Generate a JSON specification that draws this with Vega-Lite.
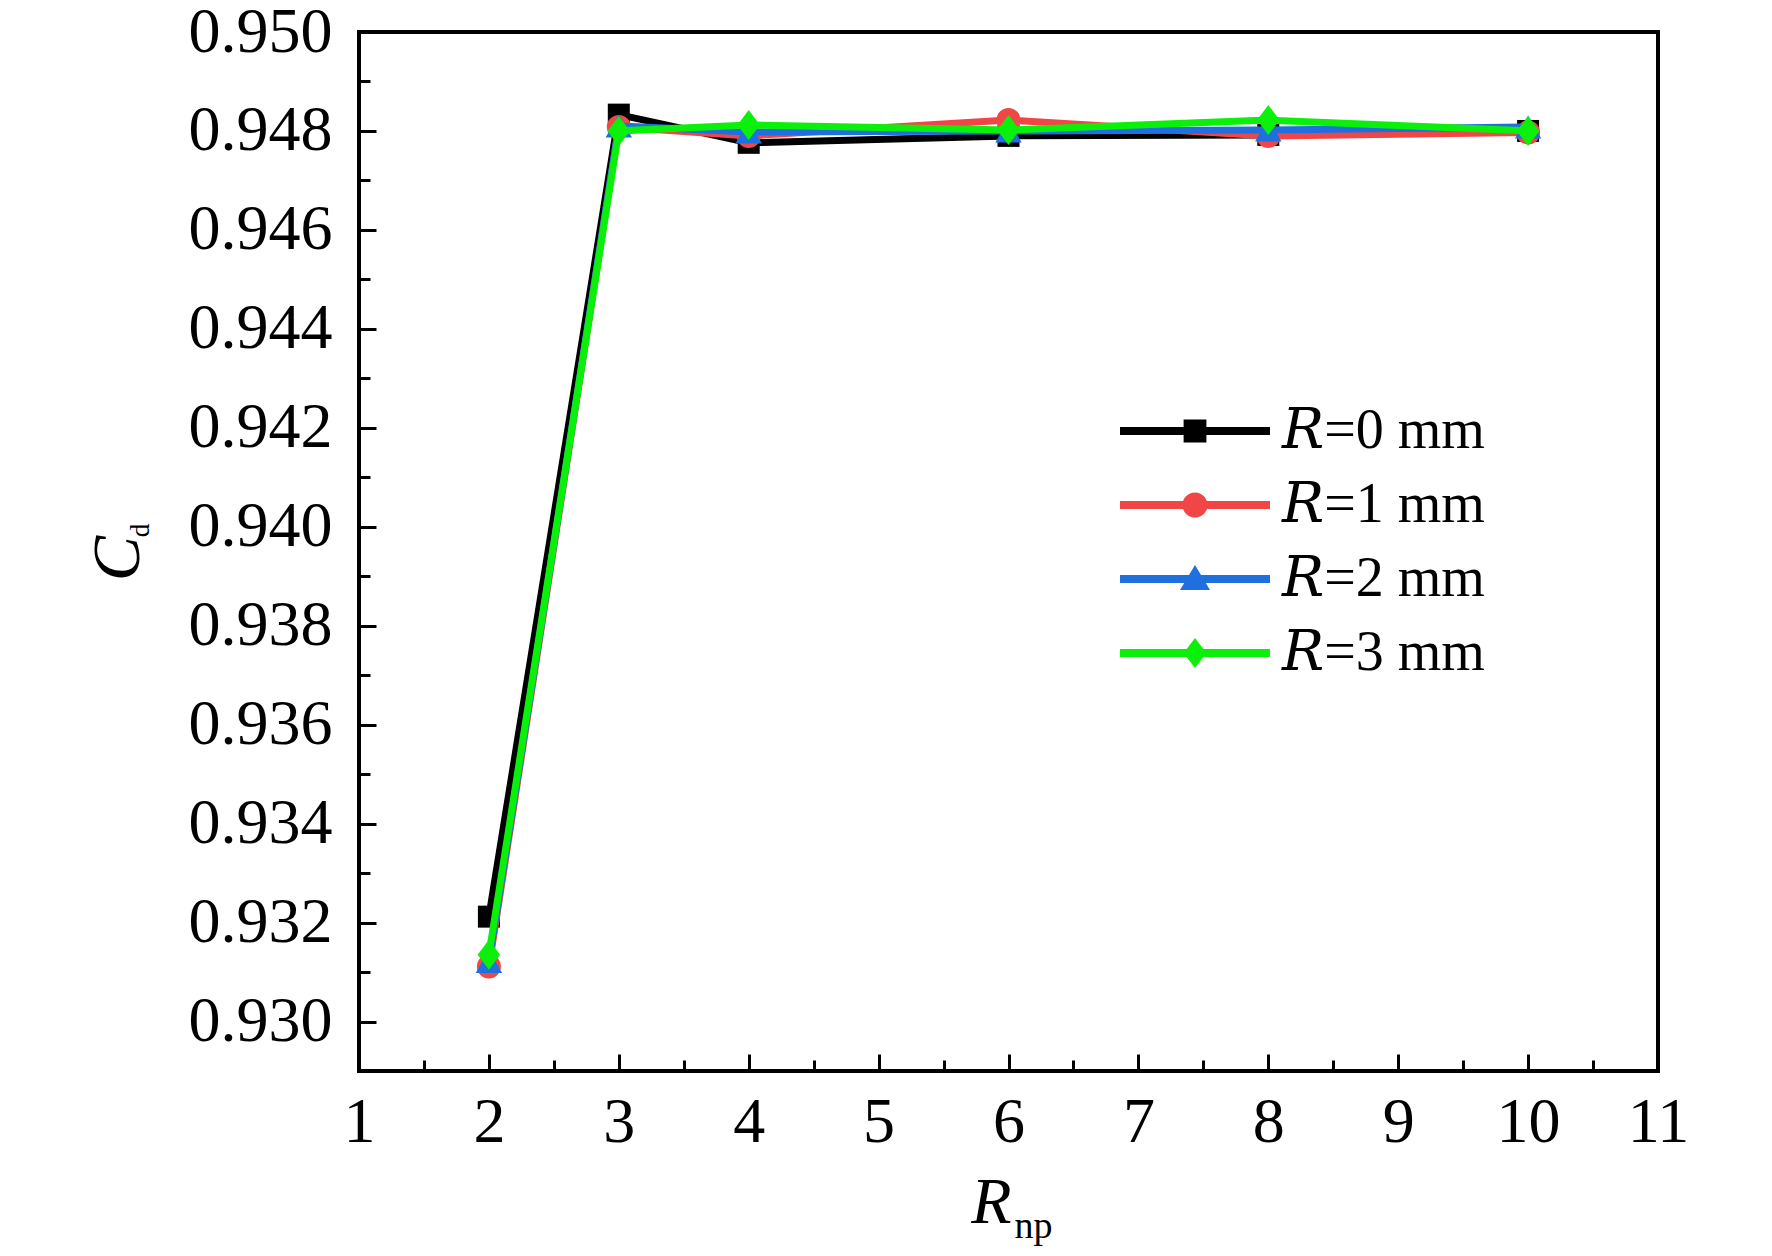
{
  "$schema": "https://vega.github.io/schema/vega-lite/v6.json",
  "autosize": "none",
  "padding": {"left": 359, "top": 32, "right": 114, "bottom": 185},
  "width": 1299,
  "height": 1039,
  "background": "white",
  "data": {
    "values": [
      {"series": "R=0 mm", "Rnp": 2, "Cd": 0.93212},
      {"series": "R=0 mm", "Rnp": 3, "Cd": 0.94833},
      {"series": "R=0 mm", "Rnp": 4, "Cd": 0.94776},
      {"series": "R=0 mm", "Rnp": 6, "Cd": 0.9479},
      {"series": "R=0 mm", "Rnp": 8, "Cd": 0.94792},
      {"series": "R=0 mm", "Rnp": 10, "Cd": 0.948},
      {"series": "R=1 mm", "Rnp": 2, "Cd": 0.93111},
      {"series": "R=1 mm", "Rnp": 3, "Cd": 0.94808},
      {"series": "R=1 mm", "Rnp": 4, "Cd": 0.9479},
      {"series": "R=1 mm", "Rnp": 6, "Cd": 0.94822},
      {"series": "R=1 mm", "Rnp": 8, "Cd": 0.9479},
      {"series": "R=1 mm", "Rnp": 10, "Cd": 0.94797},
      {"series": "R=2 mm", "Rnp": 2, "Cd": 0.93121},
      {"series": "R=2 mm", "Rnp": 3, "Cd": 0.9481},
      {"series": "R=2 mm", "Rnp": 4, "Cd": 0.94798},
      {"series": "R=2 mm", "Rnp": 6, "Cd": 0.948},
      {"series": "R=2 mm", "Rnp": 8, "Cd": 0.94802},
      {"series": "R=2 mm", "Rnp": 10, "Cd": 0.94808},
      {"series": "R=3 mm", "Rnp": 2, "Cd": 0.93135},
      {"series": "R=3 mm", "Rnp": 3, "Cd": 0.948},
      {"series": "R=3 mm", "Rnp": 4, "Cd": 0.94812},
      {"series": "R=3 mm", "Rnp": 6, "Cd": 0.94802},
      {"series": "R=3 mm", "Rnp": 8, "Cd": 0.94822},
      {"series": "R=3 mm", "Rnp": 10, "Cd": 0.948}
    ]
  },
  "layer": [
    {
      "encoding": {
        "x": {
          "field": "Rnp", "type": "quantitative",
          "scale": {"domain": [1, 11], "nice": false, "zero": false},
          "axis": {
            "orient": "bottom",
            "values": [1, 2, 3, 4, 5, 6, 7, 8, 9, 10, 11],
            "format": "d", "labelFlush": false,
            "grid": false, "domain": false,
            "tickSize": -17, "tickWidth": 3, "tickColor": "black",
            "labelPadding": 36, "labelFontSize": 64, "labelFont": "Liberation Serif", "labelColor": "black",
            "title": "R", "titleFont": "Liberation Serif", "titleFontSize": 66, "titleFontStyle": "italic",
            "titleFontWeight": "normal", "titleColor": "black",
            "titleBaseline": "alphabetic", "titleAlign": "center", "titleX": 632, "titleY": 151
          }
        },
        "y": {
          "field": "Cd", "type": "quantitative",
          "scale": {"domain": [0.929, 0.95], "nice": false, "zero": false},
          "axis": {
            "orient": "left",
            "values": [0.93, 0.932, 0.934, 0.936, 0.938, 0.94, 0.942, 0.944, 0.946, 0.948, 0.95],
            "format": ".3f", "labelFlush": false,
            "grid": false, "domain": false,
            "tickSize": -17, "tickWidth": 3, "tickColor": "black",
            "labelPadding": 44, "labelFontSize": 64, "labelFont": "Liberation Serif", "labelColor": "black",
            "title": "C", "titleFont": "Liberation Serif", "titleFontSize": 68, "titleFontStyle": "italic",
            "titleFontWeight": "normal", "titleColor": "black", "titleAngle": 270,
            "titleBaseline": "alphabetic", "titleAlign": "center", "titleX": -221, "titleY": 526
          }
        }
      },
      "layer": [
        {
          "transform": [{"filter": "datum.series === 'R=0 mm'"}],
          "layer": [
            {"mark": {"type": "line", "strokeWidth": 7, "color": "#000000"}},
            {"mark": {"type": "point", "shape": "square", "filled": true, "opacity": 1, "size": 484, "color": "#000000"}}
          ]
        },
        {
          "transform": [{"filter": "datum.series === 'R=1 mm'"}],
          "layer": [
            {"mark": {"type": "line", "strokeWidth": 7, "color": "#F24646"}},
            {"mark": {"type": "point", "shape": "circle", "filled": true, "opacity": 1, "size": 576, "color": "#F24646"}}
          ]
        },
        {
          "transform": [{"filter": "datum.series === 'R=2 mm'"}],
          "layer": [
            {"mark": {"type": "line", "strokeWidth": 7, "color": "#1F6FDF"}},
            {"mark": {"type": "point", "shape": "triangle-up", "filled": true, "opacity": 1, "size": 700, "color": "#1F6FDF"}}
          ]
        },
        {
          "transform": [{"filter": "datum.series === 'R=3 mm'"}],
          "layer": [
            {"mark": {"type": "line", "strokeWidth": 7, "color": "#0BF00B"}},
            {"mark": {"type": "point", "shape": "M0,-1L0.75,0L0,1L-0.75,0Z", "filled": true, "opacity": 1, "size": 900, "color": "#0BF00B"}}
          ]
        },
        {
          "transform": [{"filter": "false"}],
          "mark": {"type": "point", "filled": true, "opacity": 1},
          "encoding": {
            "color": {
              "field": "series", "type": "nominal",
              "scale": {
                "domain": ["R=0 mm", "R=1 mm", "R=2 mm", "R=3 mm"],
                "range": ["#000000", "#F24646", "#1F6FDF", "#0BF00B"]
              },
              "legend": {
                "title": null, "orient": "none", "legendX": 806, "legendY": 369,
                "symbolSize": 3600, "symbolStrokeWidth": 0, "symbolOpacity": 1, "labelOffset": 57,
                "labelFont": "Liberation Serif, DejaVu Serif", "labelFontSize": 56, "labelColor": "black", "labelLimit": 0,
                "rowPadding": 16, "padding": 0,
                "labelExpr": "'\ud835\udc45' + slice(datum.label, 1)"
              }
            },
            "shape": {
              "field": "series", "type": "nominal",
              "scale": {
                "domain": ["R=0 mm", "R=1 mm", "R=2 mm", "R=3 mm"],
                "range": [
                  "M-2.5,-0.13H2.5V0.13H-2.5Z M-0.38,-0.38H0.38V0.38H-0.38Z",
                  "M-2.5,-0.13H2.5V0.13H-2.5Z M-0.42,0A0.42,0.42 0 1,1 0.42,0A0.42,0.42 0 1,1 -0.42,0Z",
                  "M-2.5,-0.13H2.5V0.13H-2.5Z M0,-0.47L0.5,0.37L-0.5,0.37Z",
                  "M-2.5,-0.13H2.5V0.13H-2.5Z M0,-0.5L0.38,0L0,0.5L-0.38,0Z"
                ]
              },
              "legend": {
                "title": null, "orient": "none", "legendX": 806, "legendY": 369,
                "symbolSize": 3600, "symbolStrokeWidth": 0, "symbolOpacity": 1, "labelOffset": 57,
                "labelFont": "Liberation Serif, DejaVu Serif", "labelFontSize": 56, "labelColor": "black", "labelLimit": 0,
                "rowPadding": 16, "padding": 0,
                "labelExpr": "'\ud835\udc45' + slice(datum.label, 1)"
              }
            }
          }
        }
      ]
    },
    {
      "mark": {"type": "point", "opacity": 0},
      "encoding": {
        "x": {
          "field": "Rnp", "type": "quantitative",
          "scale": {"domain": [1, 11], "nice": false, "zero": false},
          "axis": {
            "orient": "bottom",
            "values": [1.5, 2.5, 3.5, 4.5, 5.5, 6.5, 7.5, 8.5, 9.5, 10.5],
            "labels": false, "grid": false, "domain": false,
            "tickSize": -11, "tickWidth": 3, "tickColor": "black",
            "title": "np", "titleFont": "Liberation Serif", "titleFontSize": 38, "titleFontStyle": "normal",
            "titleFontWeight": "normal", "titleColor": "black",
            "titleBaseline": "alphabetic", "titleAlign": "left", "titleX": 655, "titleY": 166
          }
        },
        "y": {
          "field": "Cd", "type": "quantitative",
          "scale": {"domain": [0.929, 0.95], "nice": false, "zero": false},
          "axis": {
            "orient": "left",
            "values": [0.931, 0.933, 0.935, 0.937, 0.939, 0.941, 0.943, 0.945, 0.947, 0.949],
            "labels": false, "grid": false, "domain": false,
            "tickSize": -11, "tickWidth": 3, "tickColor": "black",
            "title": "d", "titleFont": "Liberation Serif", "titleFontSize": 27, "titleFontStyle": "normal",
            "titleFontWeight": "normal", "titleColor": "black", "titleAngle": 270,
            "titleBaseline": "alphabetic", "titleAlign": "center", "titleX": -211, "titleY": 498
          }
        }
      }
    }
  ],
  "resolve": {"scale": {"x": "independent", "y": "independent"}},
  "config": {
    "view": {"stroke": "black", "strokeWidth": 4}
  }
}
